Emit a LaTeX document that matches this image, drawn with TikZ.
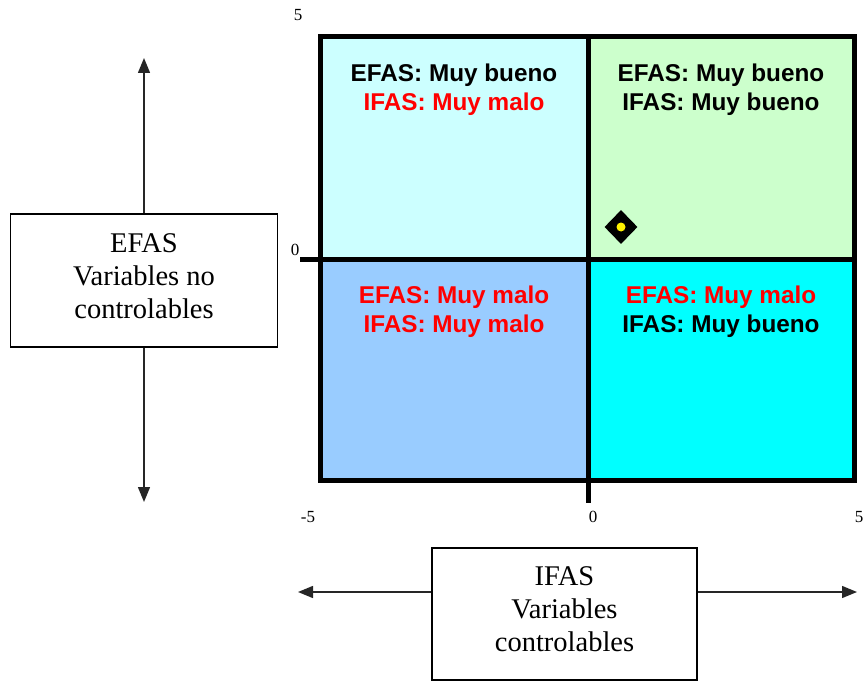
\documentclass[tikz,border=0pt]{standalone}
\usepackage{fontspec}
\setmainfont{Liberation Serif}
\newfontfamily\arial{Liberation Sans}
\usetikzlibrary{positioning,arrows.meta,shapes.geometric}
\definecolor{celeste}{HTML}{CCFFFF}
\definecolor{verdeclaro}{HTML}{CCFFCC}
\definecolor{azulclaro}{HTML}{99CCFF}
\definecolor{turquesa}{HTML}{00FFFF}
\definecolor{rojo}{HTML}{FF0000}
\newcommand{\malo}[1]{\textcolor{rojo}{#1}}

\begin{document}
\begin{tikzpicture}[
      x=1pt, y=-1pt,
      caja/.style={draw, line width=1.4pt, fill=white, minimum width=267pt,
                   minimum height=133pt, align=center, text depth=9pt,
                   font=\fontsize{28.5}{33}\selectfont},
      et/.style={font=\arial\bfseries\fontsize{24.3}{29}\selectfont, align=center},
      num/.style={font=\fontsize{17}{17}\selectfont, inner sep=0pt},
      f/.style={-{Triangle[length=15pt,width=12pt]}, line width=1.4pt, draw=black!85},
      eje/.style={line width=5pt},
    ]
    \useasboundingbox (0,0) rectangle (865,682);

    % =============== CUADRANTES ==========================================
    \fill[celeste]    (320,37)  rectangle (588,259);
    \fill[verdeclaro] (588,37)  rectangle (854,259);
    \fill[azulclaro]  (320,259) rectangle (588,480);
    \fill[turquesa]   (588,259) rectangle (854,480);

    % --- Marco y ejes ---
    \draw[eje] (320,37) rectangle (854,480);
    \draw[eje] (300,259) -- (854,259);
    \draw[eje] (588,37) -- (588,503);

    % --- Escala ---
    \node[num] (ymax) at (298,15)  {5};
    \node[num] (ycero) at (295,250) {0};
    \node[num] (xmin) at (308,517) {-5};
    \node[num] (xcero) at (593,517) {0};
    \node[num] (xmax) at (859,517) {5};

    % =============== TEXTOS ==============================================
    \node[et] (q1) at (454,90) {EFAS: Muy bueno\\\malo{IFAS: Muy malo}};
    \node[et] (q2) at (721,90) {EFAS: Muy bueno\\IFAS: Muy bueno};
    \node[et] (q3) at (454,312) {\malo{EFAS: Muy malo}\\\malo{IFAS: Muy malo}};
    \node[et] (q4) at (721,312) {\malo{EFAS: Muy malo}\\IFAS: Muy bueno};

    % --- Posicion actual ---
    \node[diamond, fill=black, minimum width=33pt, minimum height=34pt,
          inner sep=0pt] (punto) at (621,227) {};
    \node[circle, fill=yellow, minimum size=9pt, inner sep=0pt] at (punto) {};

    % =============== CAJAS Y FLECHAS =====================================
    \node[caja] (efas) at (144,280.5) {EFAS\\Variables no\\controlables};
    \node[caja, minimum width=265pt, minimum height=132pt]
      (ifas) at (564.5,614) {IFAS\\Variables\\controlables};

    \coordinate (arriba) at (144,58);
    \coordinate (abajo)  at (144,502);
    \coordinate (izq)    at (298,592);
    \coordinate (der)    at (857,592);

    \draw[f] (efas.north) -- (arriba);
    \draw[f] (efas.south) -- (abajo);
    \draw[f] (ifas.west |- izq) -- (izq);
    \draw[f] (ifas.east |- der) -- (der);
  \end{tikzpicture}
\end{document}
